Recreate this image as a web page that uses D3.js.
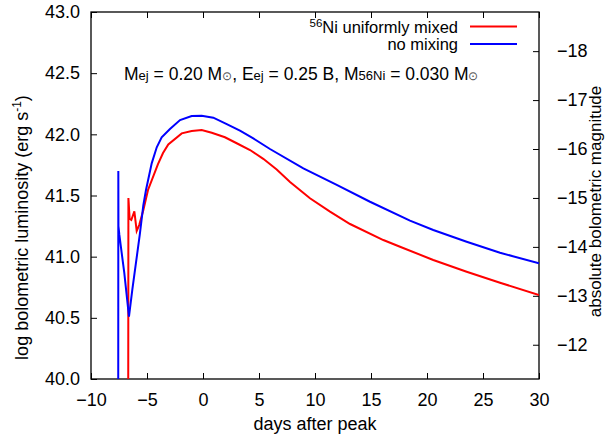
<!DOCTYPE html>
<html>
<head>
<meta charset="utf-8">
<script src="https://cdn.jsdelivr.net/npm/d3@7"></script>
<style>
  body { margin: 0; background: #fff; }
  svg { display: block; font-family: "Liberation Sans", Arial, sans-serif; }
</style>
</head>
<body>
<div id="chart"></div>
<script>
// light curve: 56Ni uniformly mixed (red)
const mixedDays = [-6.68, -6.66, -6.55, -6.40, -6.13, -5.92, -5.69, -5.33, -4.91, -4.02, -3.57, -3.10, -1.90, -1.01, -0.12, 0.78, 1.96, 3.01, 4.20, 5.38, 6.58, 7.77, 9.55, 11.34, 13.13, 16.10, 17.59, 20.56, 23.54, 26.52, 30.0];
const mixedLogL = [39.5, 41.48, 41.31, 41.30, 41.37, 41.21, 41.26, 41.38, 41.545, 41.757, 41.847, 41.918, 42.008, 42.027, 42.035, 42.013, 41.976, 41.927, 41.872, 41.800, 41.712, 41.611, 41.477, 41.368, 41.267, 41.136, 41.081, 40.973, 40.877, 40.787, 40.687];

// light curve: no mixing (blue)
const noMixDays = [-7.57, -7.56, -7.55, -7.47, -7.26, -7.03, -6.61, -6.31, -5.63, -5.33, -5.09, -4.58, -4.13, -3.69, -2.95, -2.05, -1.01, -0.12, 0.92, 2.12, 3.30, 4.49, 5.98, 8.96, 11.94, 14.91, 18.48, 20.56, 23.54, 26.52, 30.0];
const noMixLogL = [39.5, 41.70, 41.25, 41.18, 41.03, 40.87, 40.51, 40.73, 41.19, 41.42, 41.545, 41.763, 41.894, 41.976, 42.044, 42.117, 42.150, 42.152, 42.136, 42.084, 42.030, 41.967, 41.880, 41.722, 41.586, 41.449, 41.294, 41.218, 41.122, 41.032, 40.946];

// ticks
const xTicks = [-10, -5, 0, 5, 10, 15, 20, 25, 30];
const yTicks = [40.0, 40.5, 41.0, 41.5, 42.0, 42.5, 43.0];
const magTicks = [-18, -17, -16, -15, -14, -13, -12];

// M_bol = 88.7 - 2.5 log L
const magZero = 88.7;

const W = 607, H = 439;
const margin = { top: 12, right: 68, bottom: 60, left: 91 },
  width = W - margin.left - margin.right,
  height = H - margin.top - margin.bottom;

const svg = d3.select("#chart").append("svg")
  .attr("width", W).attr("height", H);

const x = d3.scaleLinear().domain([-10, 30]).range([margin.left, margin.left + width]);
const y = d3.scaleLinear().domain([40, 43]).range([margin.top + height, margin.top]);
const y2 = d3.scaleLinear()
  .domain([magZero - 2.5 * 40, magZero - 2.5 * 43])
  .range([margin.top + height, margin.top]);

svg.append("clipPath").attr("id", "clip")
  .append("rect")
  .attr("x", margin.left).attr("y", margin.top)
  .attr("width", width).attr("height", height);

const tickLen = 6;
const fs = 18;     // tick labels and axis titles
const fsText = 17.5; // annotation
const fsLeg = 16.5;  // legend

// axes (gnuplot style: ticks point inward)
const axBottom = svg.append("g")
  .attr("transform", `translate(0,${margin.top + height})`)
  .call(d3.axisBottom(x).tickValues(xTicks).tickSize(-tickLen).tickPadding(14).tickFormat(d3.format("d")));
const axTop = svg.append("g")
  .attr("transform", `translate(0,${margin.top})`)
  .call(d3.axisTop(x).tickValues(xTicks).tickSize(-tickLen).tickFormat(""));
const axLeft = svg.append("g")
  .attr("transform", `translate(${margin.left},0)`)
  .call(d3.axisLeft(y).tickValues(yTicks).tickSize(-tickLen).tickPadding(11).tickFormat(d3.format(".1f")));
const axRight = svg.append("g")
  .attr("transform", `translate(${margin.left + width},0)`)
  .call(d3.axisRight(y2).tickValues(magTicks).tickSize(-tickLen).tickPadding(18).tickFormat(d3.format("d")));

[axBottom, axTop, axLeft, axRight].forEach((g) => {
  g.select(".domain").remove();
  g.selectAll("line").attr("stroke", "#000");
  g.selectAll("text").attr("font-size", fs).attr("fill", "#000")
    .attr("font-family", "Liberation Sans, Arial, sans-serif");
});

// frame
svg.append("rect")
  .attr("x", margin.left).attr("y", margin.top)
  .attr("width", width).attr("height", height)
  .attr("fill", "none").attr("stroke", "#000").attr("stroke-width", 1.3);

// curves
const line = d3.line().x((d) => x(d[0])).y((d) => y(d[1]));
const curves = [
  { days: mixedDays, logL: mixedLogL, color: "#ff0000" },
  { days: noMixDays, logL: noMixLogL, color: "#0000ff" }
];
curves.forEach((c) => {
  svg.append("path")
    .datum(c.days.map((d, i) => [d, c.logL[i]]))
    .attr("clip-path", "url(#clip)")
    .attr("fill", "none")
    .attr("stroke", c.color)
    .attr("stroke-width", 2)
    .attr("d", line);
});

// legend
const legend = [
  { label: "uniformly mixed", sup: "56", pre: "Ni ", color: "#ff0000" },
  { label: "no mixing", color: "#0000ff" }
];
legend.forEach((l, i) => {
  const ly = 26.5 + i * 17.5;
  const t = svg.append("text")
    .attr("x", 458).attr("y", ly + 6)
    .attr("text-anchor", "end")
    .attr("font-size", fsLeg);
  if (l.sup) {
    t.append("tspan").attr("font-size", 11.5).attr("dy", -6).text(l.sup);
    t.append("tspan").attr("dy", 6).text(l.pre + l.label);
  } else {
    t.text(l.label);
  }
  svg.append("line")
    .attr("x1", 470).attr("x2", 517)
    .attr("y1", ly).attr("y2", ly)
    .attr("stroke", l.color).attr("stroke-width", 2);
});

// parameters annotation
const ann = svg.append("text").attr("x", 124).attr("y", 80).attr("font-size", fsText);
const parts = [
  ["M", fsText], ["ej", 13], [" = 0.20 M", fsText], ["\u2299", 12, "#555"],
  [", E", fsText], ["ej", 13], [" = 0.25 B, M", fsText], ["56Ni", 13],
  [" = 0.030 M", fsText], ["\u2299", 12, "#555"]
];
parts.forEach((p) => {
  ann.append("tspan").attr("font-size", p[1]).attr("fill", p[2] || "#000").text(p[0]);
});

// axis titles
svg.append("text")
  .attr("x", x(10)).attr("y", 430)
  .attr("text-anchor", "middle").attr("font-size", fs)
  .text("days after peak");

const yl = svg.append("text")
  .attr("transform", `translate(28,${margin.top + height / 2 + 32}) rotate(-90)`)
  .attr("text-anchor", "middle").attr("font-size", fs);
yl.append("tspan").text("log bolometric luminosity (erg s");
yl.append("tspan").attr("font-size", 12).attr("dy", -7).text("-1");
yl.append("tspan").attr("dy", 7).text(")");

svg.append("text")
  .attr("transform", `translate(601,${margin.top + height / 2 + 6}) rotate(-90)`)
  .attr("text-anchor", "middle").attr("font-size", 17)
  .text("absolute bolometric magnitude");
</script>
</body>
</html>
